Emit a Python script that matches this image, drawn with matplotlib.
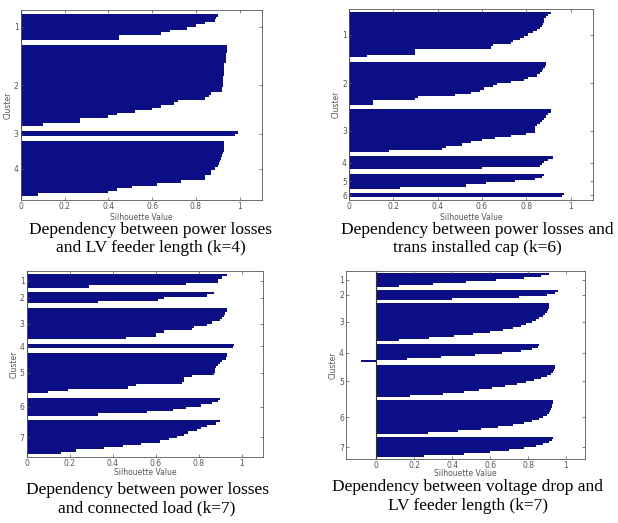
import numpy as np
import matplotlib.pyplot as plt

# silhouette values per cluster, sorted high -> low
# (a) power losses vs LV feeder length, k=4
a_c1 = [0.90, 0.89, 0.885, 0.84, 0.80, 0.76, 0.68, 0.64, 0.45, 0.45]
a_c2 = [0.94, 0.94, 0.94, 0.935, 0.935, 0.935, 0.935, 0.93, 0.93, 0.93, 0.93,
        0.93, 0.925, 0.925, 0.925, 0.925, 0.92, 0.92, 0.87, 0.86, 0.84, 0.72,
        0.70, 0.64, 0.60, 0.52, 0.44, 0.40, 0.27, 0.27, 0.10]
a_c3 = [0.99, 0.98]
a_c4 = [0.93, 0.93, 0.93, 0.93, 0.925, 0.92, 0.915, 0.91, 0.905, 0.90, 0.885,
        0.87, 0.87, 0.84, 0.84, 0.73, 0.62, 0.51, 0.44, 0.40, 0.08]

# (b) power losses vs trans installed cap, k=6
b_c1 = [0.91, 0.90, 0.89, 0.88, 0.88, 0.875, 0.87, 0.86, 0.85, 0.83, 0.81,
        0.79, 0.77, 0.74, 0.73, 0.65, 0.64, 0.30, 0.30, 0.30, 0.08]
b_c2 = [0.89, 0.89, 0.885, 0.875, 0.87, 0.86, 0.85, 0.81, 0.79, 0.73, 0.67,
        0.65, 0.61, 0.59, 0.55, 0.48, 0.31, 0.30, 0.11, 0.11]
b_c3 = [0.91, 0.91, 0.90, 0.89, 0.88, 0.87, 0.86, 0.85, 0.84, 0.84, 0.84,
        0.80, 0.73, 0.66, 0.60, 0.55, 0.51, 0.44, 0.42, 0.18]
b_c4 = [0.92, 0.90, 0.88, 0.87, 0.86, 0.60]
b_c5 = [0.88, 0.87, 0.84, 0.75, 0.62, 0.53, 0.23]
b_c6 = [0.97, 0.96]

# (c) power losses vs connected load, k=7
c_c1 = [0.93, 0.91, 0.89, 0.89, 0.74, 0.29]
c_c2 = [0.87, 0.84, 0.64, 0.61, 0.33]
c_c3 = [0.93, 0.93, 0.92, 0.915, 0.91, 0.90, 0.86, 0.84, 0.78, 0.77, 0.64,
        0.60, 0.60, 0.46]
c_c4 = [0.965, 0.96]
c_c5 = [0.93, 0.93, 0.925, 0.91, 0.90, 0.89, 0.88, 0.875, 0.875, 0.87, 0.77,
        0.73, 0.73, 0.72, 0.51, 0.47, 0.19, 0.10]
c_c6 = [0.90, 0.89, 0.86, 0.81, 0.74, 0.68, 0.56, 0.33]
c_c7 = [0.90, 0.88, 0.84, 0.81, 0.79, 0.75, 0.73, 0.70, 0.66, 0.62, 0.53,
        0.45, 0.36, 0.23, 0.16]

# (d) voltage drop vs LV feeder length, k=7 (many points, sampled)
d_c1 = [0.91, 0.87, 0.78, 0.63, 0.47, 0.30, 0.12]
d_c2 = [0.96, 0.94, 0.90, 0.75, 0.40]
d_c3 = [0.91, 0.91, 0.91, 0.905, 0.90, 0.89, 0.88, 0.86, 0.84, 0.82, 0.79,
        0.76, 0.72, 0.67, 0.60, 0.51, 0.41, 0.28, 0.12]
d_c4 = [0.86, 0.85, 0.82, 0.76, 0.66, 0.52, 0.34, 0.16, -0.08]
d_c5 = [0.94, 0.94, 0.935, 0.93, 0.92, 0.90, 0.87, 0.83, 0.79, 0.74, 0.68,
        0.61, 0.54, 0.46, 0.35, 0.18]
d_c6 = [0.93, 0.93, 0.925, 0.925, 0.92, 0.915, 0.91, 0.90, 0.88, 0.86, 0.82,
        0.78, 0.72, 0.64, 0.55, 0.43, 0.27]
d_c7 = [0.93, 0.925, 0.91, 0.88, 0.84, 0.78, 0.70, 0.60, 0.46, 0.25]

captions = ["Dependency between power losses\nand LV feeder length (k=4)",
            "Dependency between power losses and\ntrans installed cap (k=6)",
            "Dependency between power losses\nand connected load (k=7)",
            "Dependency between voltage drop and\nLV feeder length (k=7)"]

xticks = [0, 0.2, 0.4, 0.6, 0.8, 1]
xticklabels = ['0', '0.2', '0.4', '0.6', '0.8', '1']

bar_color = '#0c0e86'
frame_color = '#555555'
label_color = '#555555'


def silhouette(ax, clusters, gap, pad, xlim, xlabelpad):
    y = pad
    centers = []
    for vals in clusters:
        # each point is one bar of height 1; draw the cluster as one staircase
        edges = y + np.arange(len(vals) + 1)
        widths = np.append(vals, vals[-1])
        ax.fill_betweenx(edges, 0, widths, step='post', color=bar_color,
                         linewidth=0)
        centers.append(y + len(vals) / 2)
        y += len(vals) + gap
    ax.set_ylim(y - gap + pad, 0)
    ax.set_xlim(*xlim)
    ax.axvline(0, color='#333333', lw=0.8)
    ax.set_yticks(centers)
    ax.set_yticklabels([str(i + 1) for i in range(len(clusters))])
    ax.set_xticks(xticks)
    ax.set_xticklabels(xticklabels)
    ax.tick_params(direction='in', top=True, right=True, length=2.5,
                   width=0.5, labelsize=5.5, pad=1.5, colors=frame_color,
                   labelcolor=label_color)
    for s in ax.spines.values():
        s.set_color(frame_color)
        s.set_linewidth(0.6)
    ax.set_xlabel('Silhouette Value', fontsize=5.5, labelpad=xlabelpad,
                  color=label_color)
    ax.set_ylabel('Cluster', fontsize=5.5, labelpad=1, color=label_color)


fig = plt.figure(figsize=(6.18, 5.23), dpi=100)
W, H = 618, 523


def add_axes(left, top, right, bottom):
    return fig.add_axes([left / W, 1 - bottom / H, (right - left) / W,
                         (bottom - top) / H])


ax1 = add_axes(20.7, 10, 261.7, 200)
silhouette(ax1, [a_c1, a_c2, a_c3, a_c4], gap=2, pad=1.5, xlim=(0, 1.1),
           xlabelpad=1.5)

ax2 = add_axes(349, 9.3, 592.7, 200)
silhouette(ax2, [b_c1, b_c2, b_c3, b_c4, b_c5, b_c6], gap=2, pad=1.2,
           xlim=(0, 1.1), xlabelpad=1.5)

ax3 = add_axes(26.7, 270.7, 263.3, 457.3)
silhouette(ax3, [c_c1, c_c2, c_c3, c_c4, c_c5, c_c6, c_c7], gap=2, pad=1.5,
           xlim=(0, 1.1), xlabelpad=0)

ax4 = add_axes(346, 270.7, 585, 459.3)
silhouette(ax4, [d_c1, d_c2, d_c3, d_c4, d_c5, d_c6, d_c7], gap=1.5, pad=1,
           xlim=(-0.16, 1.1), xlabelpad=-0.8)

cap_font = dict(family='Liberation Serif', fontsize=12.5, ha='center',
                va='center', linespacing=1.2)
fig.text(150.5 / W, 1 - 239 / H, captions[0], **cap_font)
fig.text(477.7 / W, 1 - 239 / H, captions[1], **cap_font)
fig.text(147 / W, 1 - 499 / H, captions[2], **cap_font)
fig.text(467.5 / W, 1 - 496.5 / H, captions[3], **cap_font)

fig.savefig('out.png', dpi=100)
